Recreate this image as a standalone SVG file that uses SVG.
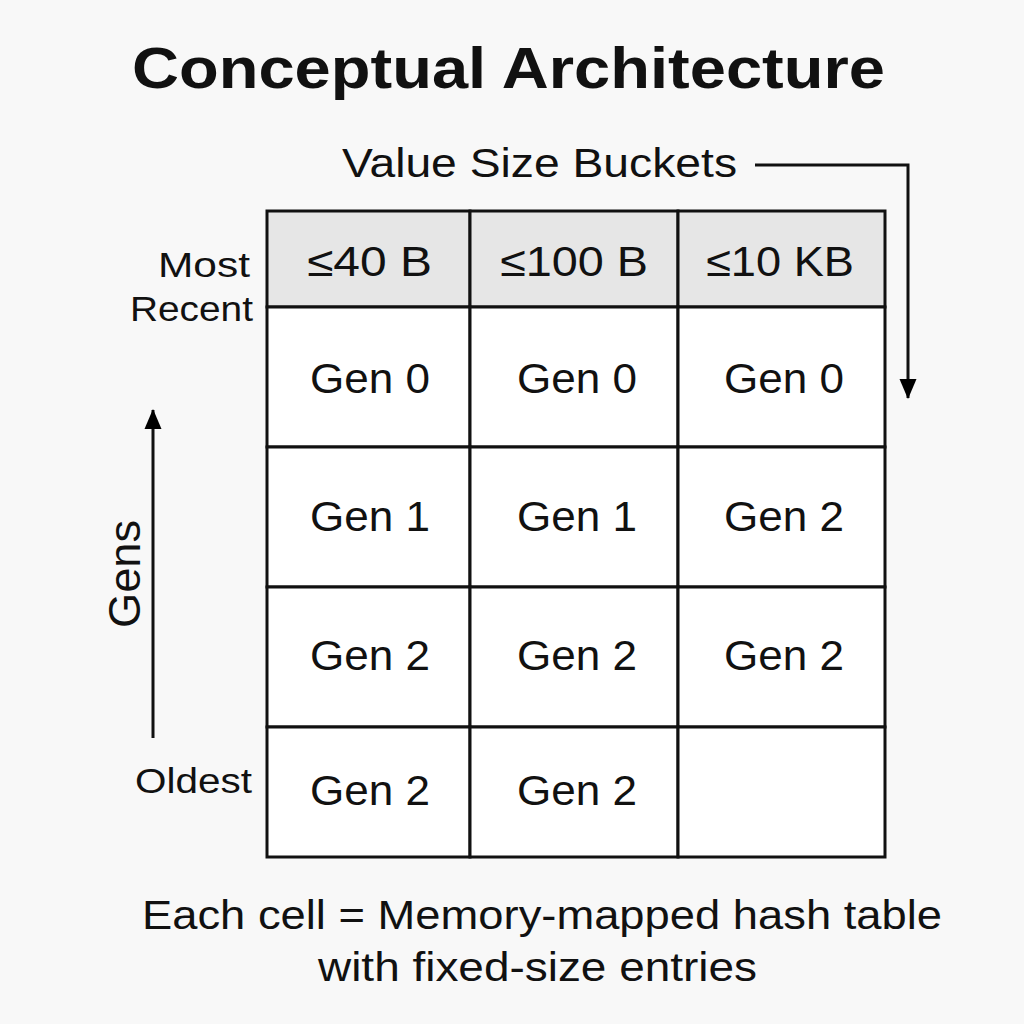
<svg xmlns="http://www.w3.org/2000/svg" width="1024" height="1024" viewBox="0 0 1024 1024">
<defs>
<marker id="ah2" viewBox="0 0 20 20" refX="19" refY="10" markerWidth="20" markerHeight="20" markerUnits="userSpaceOnUse" orient="auto"><path d="M0,1.5 L20,10 L0,18.5 z" fill="#000"/></marker>
</defs>
<style>
text{font-family:"Liberation Sans",Arial,sans-serif;fill:#111}
.c{font-size:42px}
.h{font-size:42px}
.l{font-size:35px}
.cell{fill:#fff;stroke:#111;stroke-width:3}
.hd{fill:#e6e6e6;stroke:#111;stroke-width:3}
.ln{stroke:#111;stroke-width:3;fill:none}
</style>
<rect width="1024" height="1024" fill="#f8f8f8"/>
<text x="132" y="88" font-size="58" font-weight="bold" textLength="753" lengthAdjust="spacingAndGlyphs">Conceptual Architecture</text>
<text x="342" y="177" font-size="41" textLength="395" lengthAdjust="spacingAndGlyphs">Value Size Buckets</text>
<g id="headers">
<rect class="hd" x="267" y="211" width="203" height="96"/>
<rect class="hd" x="470" y="211" width="208" height="96"/>
<rect class="hd" x="678" y="211" width="207" height="96"/>
<text class="h" x="307" y="276" textLength="125" lengthAdjust="spacingAndGlyphs">≤40 B</text>
<text class="h" x="500" y="276" textLength="148" lengthAdjust="spacingAndGlyphs">≤100 B</text>
<text class="h" x="706" y="276" textLength="148" lengthAdjust="spacingAndGlyphs">≤10 KB</text>
</g>
<g id="cells">
<g id="r0"><rect class="cell" x="267" y="307" width="203" height="140"/><rect class="cell" x="470" y="307" width="208" height="140"/><rect class="cell" x="678" y="307" width="207" height="140"/>
<text class="c" x="310" y="393" textLength="120" lengthAdjust="spacingAndGlyphs">Gen 0</text><text class="c" x="517" y="393" textLength="120" lengthAdjust="spacingAndGlyphs">Gen 0</text><text class="c" x="724" y="393" textLength="120" lengthAdjust="spacingAndGlyphs">Gen 0</text></g>
<g id="r1"><rect class="cell" x="267" y="447" width="203" height="140"/><rect class="cell" x="470" y="447" width="208" height="140"/><rect class="cell" x="678" y="447" width="207" height="140"/>
<text class="c" x="310" y="531" textLength="120" lengthAdjust="spacingAndGlyphs">Gen 1</text><text class="c" x="517" y="531" textLength="120" lengthAdjust="spacingAndGlyphs">Gen 1</text><text class="c" x="724" y="531" textLength="120" lengthAdjust="spacingAndGlyphs">Gen 2</text></g>
<g id="r2"><rect class="cell" x="267" y="587" width="203" height="140"/><rect class="cell" x="470" y="587" width="208" height="140"/><rect class="cell" x="678" y="587" width="207" height="140"/>
<text class="c" x="310" y="670" textLength="120" lengthAdjust="spacingAndGlyphs">Gen 2</text><text class="c" x="517" y="670" textLength="120" lengthAdjust="spacingAndGlyphs">Gen 2</text><text class="c" x="724" y="670" textLength="120" lengthAdjust="spacingAndGlyphs">Gen 2</text></g>
<g id="r3"><rect class="cell" x="267" y="727" width="203" height="130"/><rect class="cell" x="470" y="727" width="208" height="130"/><rect class="cell" x="678" y="727" width="207" height="130"/>
<text class="c" x="310" y="805" textLength="120" lengthAdjust="spacingAndGlyphs">Gen 2</text><text class="c" x="517" y="805" textLength="120" lengthAdjust="spacingAndGlyphs">Gen 2</text></g>
</g>
<g id="labels">
<text class="l" x="158" y="277" textLength="92" lengthAdjust="spacingAndGlyphs">Most</text>
<text class="l" x="130" y="321" textLength="123" lengthAdjust="spacingAndGlyphs">Recent</text>
<text class="l" x="135" y="793" textLength="117" lengthAdjust="spacingAndGlyphs">Oldest</text>
<text x="140" y="628" font-size="44" transform="rotate(-90 140 628)" textLength="108" lengthAdjust="spacingAndGlyphs">Gens</text>
</g>
<g id="connectors">
<path class="ln" d="M755,165 H908 V398" marker-end="url(#ah2)"/>
<path class="ln" d="M153,738 V410" marker-end="url(#ah2)"/>
</g>
<text x="142" y="929" font-size="40" textLength="800" lengthAdjust="spacingAndGlyphs">Each cell = Memory-mapped hash table</text>
<text x="318" y="981" font-size="40" textLength="439" lengthAdjust="spacingAndGlyphs">with fixed-size entries</text>
</svg>
